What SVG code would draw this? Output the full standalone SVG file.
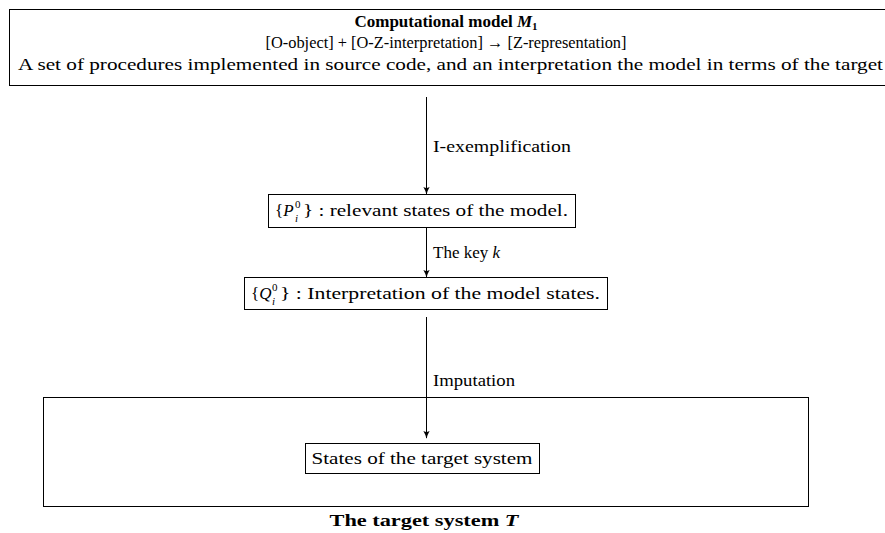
<svg xmlns="http://www.w3.org/2000/svg" width="885" height="533" viewBox="0 0 885 533">
  <style>
    text { font-family: "Liberation Serif", "DejaVu Serif", serif; font-size: 17px; fill: #000; }
    .b { font-weight: bold; }
    .it { font-style: italic; }
    .sm { font-size: 11px; }
    .box { fill: #fff; stroke: #000; stroke-width: 1; }
    .edge { fill: none; stroke: #000; stroke-width: 1; marker-end: url(#tip); }
  </style>
  <defs>
    <marker id="tip" viewBox="0 0 10 10" refX="9" refY="5" markerWidth="8" markerHeight="8" markerUnits="userSpaceOnUse" orient="auto">
      <path d="M0,1 Q5,4 10,5 Q5,6 0,9 Q3,5 0,1 Z" fill="#000"/>
    </marker>
  </defs>

  <!-- computational model -->
  <g id="model">
    <rect class="box" x="9.5" y="9.5" width="890" height="76"/>
    <text class="b" x="446" y="27" text-anchor="middle">Computational model <tspan class="it">M</tspan><tspan class="sm" baseline-shift="-3">1</tspan></text>
    <text x="446" y="48" text-anchor="middle" textLength="361" lengthAdjust="spacingAndGlyphs">[O-object] + [O-Z-interpretation] → [Z-representation]</text>
    <text x="18" y="70" textLength="865" lengthAdjust="spacingAndGlyphs">A set of procedures implemented in source code, and an interpretation the model in terms of the target</text>
  </g>

  <!-- relevant states -->
  <g id="states-p">
    <rect class="box" x="268.5" y="194.5" width="307" height="33"/>
    <text x="275" y="216">{<tspan class="it">P</tspan></text>
    <text class="sm" x="295" y="208">0</text>
    <text class="sm it" x="295" y="222">i</text>
    <text x="303" y="216" textLength="265" lengthAdjust="spacingAndGlyphs">} : relevant states of the model.</text>
  </g>

  <!-- interpretation of states -->
  <g id="states-q">
    <rect class="box" x="244.5" y="277.5" width="363" height="32"/>
    <text x="251" y="299">{<tspan class="it">Q</tspan></text>
    <text class="sm" x="272" y="291">0</text>
    <text class="sm it" x="272" y="305">i</text>
    <text x="280" y="299" textLength="320" lengthAdjust="spacingAndGlyphs">} : Interpretation of the model states.</text>
  </g>

  <!-- target system -->
  <g id="target">
    <rect class="box" x="43.5" y="397.5" width="765" height="109"/>
    <text class="b" x="424" y="526" text-anchor="middle" textLength="189" lengthAdjust="spacingAndGlyphs">The target system <tspan class="it">T</tspan></text>
  </g>

  <g id="target-states">
    <rect class="box" x="305.5" y="443.5" width="234" height="30"/>
    <text x="422" y="464" text-anchor="middle" textLength="221" lengthAdjust="spacingAndGlyphs">States of the target system</text>
  </g>

  <!-- connectors -->
  <g id="connectors">
    <line class="edge" x1="426.5" y1="97" x2="426.5" y2="194"/>
    <text x="433" y="152" textLength="138" lengthAdjust="spacingAndGlyphs">I-exemplification</text>
    <line class="edge" x1="426.5" y1="228" x2="426.5" y2="277"/>
    <text x="433" y="258">The key <tspan class="it">k</tspan></text>
    <line class="edge" x1="426.5" y1="317" x2="426.5" y2="438"/>
    <text x="433" y="386" textLength="82" lengthAdjust="spacingAndGlyphs">Imputation</text>
  </g>
</svg>
